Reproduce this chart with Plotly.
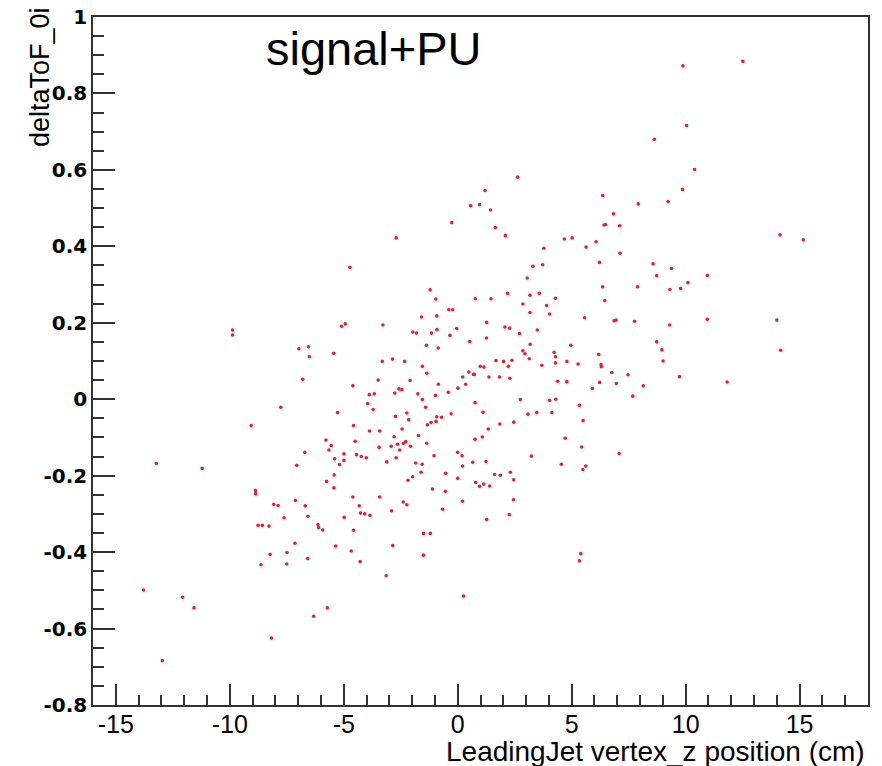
import plotly.graph_objects as go

# ---- data (LeadingJet vertex_z [cm], deltaToF_0i) ----
z_top = [9.88, 12.51, 10.04, 8.63, 2.63, 10.39]
tof_top = [0.872, 0.884, 0.716, 0.680, 0.581, 0.601]

z_ul = [-2.70, -4.73, -1.21, -0.96, -1.59, -0.92, -3.28, -5.09, -4.93, -1.97,
        -1.81, -1.15, -0.91, -1.37, -0.85, -6.97, -6.55, -6.51, -5.44, -2.86]
tof_ul = [0.422, 0.345, 0.286, 0.262, 0.215, 0.218, 0.194, 0.191, 0.197, 0.176,
          0.173, 0.173, 0.182, 0.141, 0.134, 0.132, 0.137, 0.111, 0.120, 0.105]

z_ur = [1.20, 0.57, 0.96, 1.44, -0.26, 1.65, 2.09, 6.36, 7.92, 6.83, 6.42, 6.49, 7.11,
        4.68, 5.02, 3.78, 5.63, 6.07, 7.12, 6.22, 3.30, 3.73, 3.05, 6.36, 7.89,
        0.77, 1.46, 2.19, 3.17, 3.58, 4.29, 6.45, -0.39, -0.22, 2.86, 3.90, 3.17,
        4.03, 5.57, 6.86, 6.95, 7.76, -0.04, 1.27, 2.07, 2.28, -0.34, 1.26, 0.53,
        2.71, 3.49, 3.18, 4.96, 2.86, 2.95, 4.23, 4.29, 6.19, 3.14]
tof_ur = [0.546, 0.506, 0.509, 0.495, 0.462, 0.449, 0.428, 0.533, 0.511, 0.485, 0.456,
          0.457, 0.454, 0.419, 0.422, 0.395, 0.398, 0.412, 0.382, 0.358, 0.348, 0.352,
          0.317, 0.294, 0.294, 0.263, 0.263, 0.277, 0.272, 0.277, 0.264, 0.258, 0.234,
          0.234, 0.249, 0.245, 0.227, 0.223, 0.213, 0.205, 0.207, 0.204, 0.185, 0.201,
          0.189, 0.186, 0.167, 0.160, 0.151, 0.172, 0.181, 0.144, 0.141, 0.127, 0.119,
          0.123, 0.111, 0.117, 0.106]

z_ll = [-3.31, -2.33, -1.55, -1.36, -6.80, -4.60, -3.49, -2.09, -3.88, -3.66,
        -2.76, -2.58, -2.45, -1.75, -1.55, -0.98, -0.85, -7.76, -5.27, -3.95,
        -3.71, -1.41, -2.23, -2.15, -2.73, -0.92, -1.17, -0.95, -1.33, -9.06,
        -4.57, -3.87, -3.42, -2.44, -1.72, -2.79, -5.78, -5.55, -5.65, -4.50,
        -3.45, -2.92, -2.64, -2.38, -2.28, -2.07, -1.36, -2.54, -6.71, -4.99,
        -4.44, -4.23, -4.01, -5.40, -4.99, -5.18, -7.06, -3.11, -2.70, -1.04,
        -1.84, -1.56, -5.42, -1.61, -1.98, -2.18, -5.75, -5.43, -1.11, -8.87,
        -8.87, -4.60, -3.42, -2.39, -2.23, -7.12, -8.07, -7.88, -6.69, -4.32,
        -2.90, -7.62, -6.57, -4.98, -4.26, -4.08, -3.85, -8.76, -8.57, -8.28,
        -6.13, -6.10, -5.92, -4.57, -1.50, -1.20, -7.14, -5.35, -2.85]
tof_ll = [0.099, 0.099, 0.086, 0.068, 0.052, 0.035, 0.050, 0.049, 0.012, 0.014,
          0.016, 0.027, 0.025, 0.014, -0.001, 0.010, 0.039, -0.021, -0.035, -0.011,
          -0.027, -0.021, -0.036, -0.054, -0.045, -0.046, -0.061, -0.058, -0.067, -0.069,
          -0.069, -0.083, -0.083, -0.078, -0.095, -0.098, -0.107, -0.121, -0.133, -0.110,
          -0.126, -0.123, -0.118, -0.115, -0.111, -0.123, -0.115, -0.133, -0.139, -0.143,
          -0.145, -0.150, -0.153, -0.156, -0.160, -0.171, -0.173, -0.164, -0.153, -0.148,
          -0.167, -0.170, -0.198, -0.191, -0.203, -0.212, -0.215, -0.232, -0.235, -0.239,
          -0.247, -0.256, -0.256, -0.269, -0.276, -0.265, -0.275, -0.278, -0.279, -0.279,
          -0.292, -0.310, -0.306, -0.309, -0.298, -0.300, -0.304, -0.330, -0.330, -0.332,
          -0.328, -0.336, -0.342, -0.343, -0.351, -0.351, -0.377, -0.384, -0.383]

z_lr = [1.68, 2.01, 2.38, 0.99, 1.15, 2.22, 0.49, 0.69, 0.73, 0.22,
        1.37, 1.83, 2.29, 3.69, 4.29, 4.79, 5.28, 6.29, 6.30, 6.76,
        7.47, 0.35, 0.01, -0.41, 4.39, 4.79, 6.23, 6.96, 5.91, 8.14,
        7.68, 0.76, 2.75, 4.03, 4.30, 5.34, 1.11, -0.29, -0.71, 3.08,
        3.47, 4.13, 5.50, 1.85, 2.46, 1.34, 0.76, 1.08, 4.72, 5.44,
        7.08, 0.00, 0.19, 3.23, 0.66, 1.24, 0.21, 4.55, 5.49, 5.62,
        -0.53, 1.62, 1.87, 2.31, 0.00, 2.46, 0.79, 0.96, 1.14, 1.40,
        -0.54, 0.21, 2.45, -0.66, 2.26, 1.27]
tof_lr = [0.101, 0.099, 0.102, 0.086, 0.084, 0.086, 0.071, 0.065, 0.065, 0.058,
          0.058, 0.058, 0.055, 0.089, 0.095, 0.099, 0.092, 0.091, 0.085, 0.070,
          0.064, 0.039, 0.029, 0.018, 0.047, 0.046, 0.044, 0.041, 0.028, 0.035,
          0.008, -0.009, -0.001, -0.003, 0.000, -0.016, -0.034, -0.038, -0.047, -0.039,
          -0.035, -0.035, -0.056, -0.065, -0.060, -0.078, -0.105, -0.099, -0.102, -0.125,
          -0.142, -0.139, -0.148, -0.149, -0.165, -0.163, -0.175, -0.170, -0.184, -0.175,
          -0.194, -0.197, -0.199, -0.191, -0.207, -0.211, -0.218, -0.228, -0.222, -0.227,
          -0.241, -0.267, -0.263, -0.288, -0.302, -0.315]

z_left = [-9.88, -9.88, -13.22, -11.21]
tof_left = [0.181, 0.168, -0.168, -0.181]

z_right = [9.86, 9.23, 14.14, 15.16, 8.57, 9.38, 8.73, 10.95, 10.10, 9.31,
           9.78, 9.30, 10.95, 14.00, 8.73, 8.96, 9.01, 14.17, 9.73, 11.82]
tof_right = [0.549, 0.517, 0.430, 0.417, 0.354, 0.342, 0.323, 0.324, 0.305, 0.287,
             0.290, 0.194, 0.209, 0.207, 0.150, 0.129, 0.100, 0.128, 0.059, 0.045]

z_low = [-13.78, -12.07, -11.57, -12.96, -8.17, -6.32, -5.72, -3.14, 0.26, -8.63,
         -7.50, -8.23, -7.49, -6.58, -4.67, -4.28, -1.50, 5.40, 5.34]
tof_low = [-0.499, -0.518, -0.546, -0.684, -0.625, -0.568, -0.546, -0.462, -0.515, -0.433,
           -0.431, -0.406, -0.401, -0.417, -0.397, -0.425, -0.408, -0.404, -0.423]

x_tick_vals = [-15, -10, -5, 0, 5, 10, 15]
x_tick_text = ["-15", "-10", "-5", "0", "5", "10", "15"]
y_tick_vals = [-0.8, -0.6, -0.4, -0.2, 0, 0.2, 0.4, 0.6, 0.8, 1]
y_tick_text = ["-0.8", "-0.6", "-0.4", "-0.2", "0", "0.2", "0.4", "0.6", "0.8", "1"]

vertex_z = z_top + z_ul + z_ur + z_ll + z_lr + z_left + z_right + z_low
delta_tof = tof_top + tof_ul + tof_ur + tof_ll + tof_lr + tof_left + tof_right + tof_low

AX = "#333333"
FONT = "Liberation Sans, Arial, Helvetica, sans-serif"
WIDE = "DejaVu Sans, Liberation Sans, sans-serif"

fig = go.Figure(go.Scatter(
    x=vertex_z, y=delta_tof, mode="markers",
    marker=dict(color="#e8202c", size=3.6, line=dict(width=0)),
    hoverinfo="skip", showlegend=False,
))

fig.update_layout(
    width=882, height=766,
    margin=dict(l=93, r=14, t=17, b=61, autoexpand=False),
    paper_bgcolor="white", plot_bgcolor="white",
    font=dict(family=FONT, color="black"),
    xaxis=dict(
        range=[-16, 18], tickvals=x_tick_vals, ticktext=x_tick_text,
        automargin=False,
        ticks="inside", ticklen=21, tickwidth=1.5, tickcolor=AX,
        showline=True, linecolor=AX, linewidth=1.5, mirror=True,
        showgrid=False, zeroline=False,
        tickfont=dict(family=FONT, size=25, color="black"),
        ticklabelstandoff=-4,
        minor=dict(dtick=1, tick0=0, ticks="inside", ticklen=10, tickwidth=1.5,
                   tickcolor=AX, showgrid=False),
    ),
    yaxis=dict(
        range=[-0.8, 1], tickvals=y_tick_vals, ticktext=y_tick_text,
        automargin=False,
        ticks="inside", ticklen=22, tickwidth=1.5, tickcolor=AX,
        showline=True, linecolor=AX, linewidth=1.5, mirror=True,
        showgrid=False, zeroline=False,
        tickfont=dict(family=WIDE, size=20, color="black", weight="bold"),
        minor=dict(dtick=0.05, tick0=0, ticks="inside", ticklen=11, tickwidth=1.5,
                   tickcolor=AX, showgrid=False),
    ),
    annotations=[
        dict(text="signal+PU", xref="paper", yref="paper", x=(264 - 93) / 775, y=1,
             xanchor="left", yanchor="top", yshift=-3, showarrow=False,
             font=dict(family=FONT, size=47, color="black")),
        dict(text="LeadingJet vertex_z position (cm)", xref="paper", yref="paper",
             x=1, y=0, xanchor="right", yanchor="middle", xshift=-1, yshift=-46,
             showarrow=False, font=dict(family=FONT, size=28, color="black")),
        dict(text="deltaToF_0i", xref="paper", yref="paper", x=0, y=1,
             xanchor="center", yanchor="top", xshift=-53, yshift=12, textangle=-90,
             showarrow=False, font=dict(family=FONT, size=27, color="black")),
    ],
)

fig.write_html("out.html")
